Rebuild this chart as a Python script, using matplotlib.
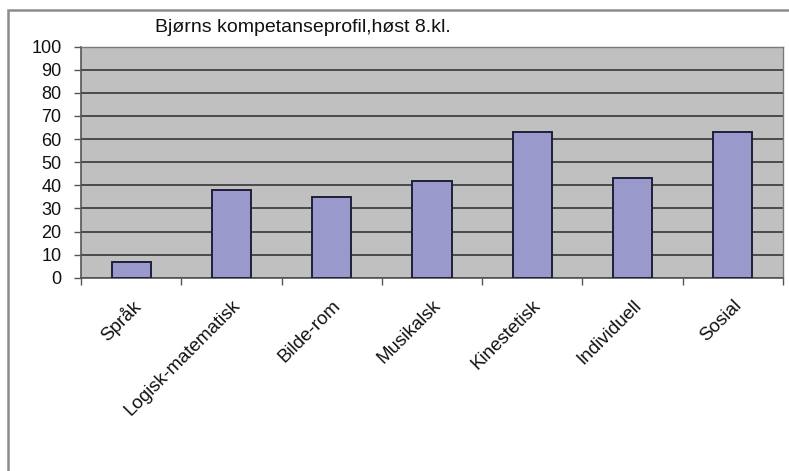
import matplotlib.pyplot as plt
from matplotlib.patches import Rectangle

plt.rcParams['font.family'] = ['Liberation Sans', 'DejaVu Sans']

# data
kategorier = ['Språk', 'Logisk-matematisk', 'Bilde-rom', 'Musikalsk',
              'Kinestetisk', 'Individuell', 'Sosial']
verdier = [7, 38, 35, 42, 63, 43, 63]
yticks = list(range(0, 101, 10))

fig = plt.figure(figsize=(7.89, 4.71), dpi=100)
ax = fig.add_axes([81 / 789, 1 - 277.7 / 471, 702 / 789, 231 / 471])

# ramme rundt hele diagrammet
fig.patches.append(Rectangle((8 / 789, -0.1), 1.2, 1 - 9.5 / 471 + 0.1,
                             transform=fig.transFigure, fill=False,
                             edgecolor='#8c8c8c', linewidth=1.8))

ax.set_facecolor('#c0c0c0')
x = range(len(kategorier))
ax.bar(x, verdier, width=0.39, color='#9999cc', edgecolor='#1f1f3a',
       linewidth=1.4, zorder=3)

ax.set_xlim(-0.5, len(kategorier) - 0.5)
ax.set_ylim(0, 100)
ax.set_yticks(yticks)
ax.yaxis.grid(True, color='#363636', linewidth=1.2, zorder=1)
ax.set_axisbelow(True)

ax.set_xticks([i + 0.5 for i in range(-1, len(kategorier))])
ax.set_xticklabels([])
ax.set_xticks(list(x), minor=True)
ax.set_xticklabels(kategorier, minor=True, rotation=45, ha='right',
                   rotation_mode='anchor', fontsize=13.5, color='#111111')
ax.tick_params(axis='x', which='minor', length=0, pad=14)
ax.tick_params(axis='x', which='major', length=5, width=1, color='#555555')
ax.tick_params(axis='y', length=5, width=1, color='#555555', labelsize=13,
               pad=9, labelcolor='#111111')

for s in ['left', 'bottom']:
    ax.spines[s].set_color('#555555')
    ax.spines[s].set_linewidth(1.2)
for s in ['top', 'right']:
    ax.spines[s].set_color('#7a7a7a')
    ax.spines[s].set_linewidth(1)

fig.text(155 / 789, 1 - 28 / 471, 'Bjørns kompetanseprofil,høst 8.kl.',
         fontsize=14, va='center', ha='left', color='#111111')

fig.savefig('out.png', dpi=100)
